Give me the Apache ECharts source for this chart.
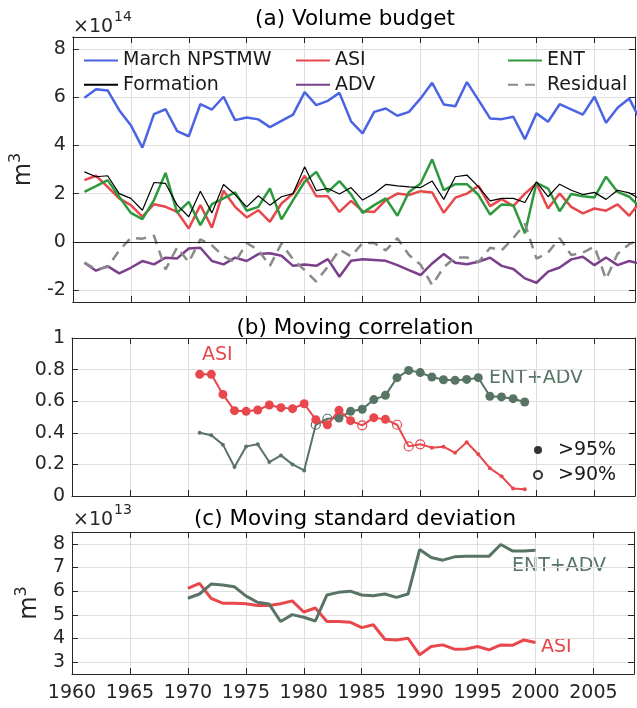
<!DOCTYPE html>
<html><head><meta charset="utf-8">
<script src="https://cdn.jsdelivr.net/npm/echarts@6/dist/echarts.min.js"></script>
<style>html,body{margin:0;padding:0;background:#fff}#c{width:637px;height:708px}</style>
</head><body><div id="c"></div>
<script>
// ---------- data ----------
const yearsA = [1961,1962,1963,1964,1965,1966,1967,1968,1969,1970,1971,1972,1973,1974,1975,1976,1977,1978,1979,1980,1981,1982,1983,1984,1985,1986,1987,1988,1989,1990,1991,1992,1993,1994,1995,1996,1997,1998,1999,2000,2001,2002,2003,2004,2005,2006,2007,2008,2009];
const marchNPSTMW = [5.98,6.33,6.28,5.46,4.84,3.91,5.30,5.50,4.59,4.38, 5.71,5.49,6.02,5.05,5.16,5.08,4.76,5.02,5.28,6.21, 5.67,5.85,6.18,5.00,4.50,5.39,5.53,5.23,5.39,5.95, 6.60,5.70,5.63,6.63,5.88,5.12,5.09,5.19,4.26,5.33, 4.98,5.71,5.50,5.28,6.02,4.94,5.56,5.95,5.00];
const formation = [2.90,2.70,2.74,2.00,1.80,1.31,2.46,2.42,1.52,1.04, 2.10,1.20,2.38,1.96,1.45,1.91,1.52,1.87,2.00,3.11, 2.12,2.21,1.98,2.25,1.73,2.00,2.38,2.32,2.28,2.25, 2.52,1.76,2.70,2.77,2.28,1.70,1.80,1.80,1.63,2.49, 1.87,2.39,2.14,1.96,2.05,1.76,2.14,2.03,1.75];
const asi = [2.56,2.74,2.28,1.80,1.52,1.04,1.56,1.45,1.24,0.55, 1.52,0.59,2.12,1.45,1.01,1.31,0.83,1.59,2.00,2.74, 1.89,1.89,1.24,1.70,1.27,1.24,1.73,2.00,1.94,2.10, 2.05,1.20,1.83,2.00,2.32,1.48,1.77,1.48,2.00,2.42, 1.38,2.00,1.45,1.18,1.38,1.29,1.55,1.08,1.70];
const ent = [2.07,2.31,2.56,1.87,1.20,0.94,1.73,2.86,1.20,1.66, 0.69,1.56,1.80,2.05,1.29,1.45,2.21,0.93,1.73,2.49, 2.90,2.07,2.52,1.97,1.20,1.52,1.80,1.08,2.07,2.42, 3.42,2.14,2.39,2.39,1.94,1.13,1.55,1.52,0.35,2.45, 2.21,1.27,1.98,1.89,1.84,2.70,2.07,1.87,1.40];
const adv = [-0.87,-1.20,-1.01,-1.31,-1.08,-0.80,-0.94,-0.66,-0.69,-0.28, -0.25,-0.80,-0.94,-0.66,-0.80,-0.51,-0.48,-0.58,-1.00,-0.94, -1.00,-0.72,-1.45,-0.79,-0.73,-0.76,-0.79,-0.97,-1.18,-1.38, -0.90,-0.51,-0.87,-0.93,-0.83,-0.66,-1.00,-1.13,-1.52,-1.70, -1.24,-1.07,-0.73,-0.62,-0.97,-0.65,-0.97,-0.80,-0.92];
const residual = [-0.86,-1.15,-1.05,-0.36,0.16,0.13,0.25,-1.15,-0.23,-0.85, 0.10,-0.15,-0.60,-0.85,-0.05,-0.34,-1.00,-0.07,-0.73,-1.18, -1.65,-1.03,-0.33,-0.60,-0.05,-0.05,-0.36,0.15,-0.55,-0.95, -1.80,-1.05,-0.65,-0.65,-0.85,-0.25,-0.35,0.15,0.75,-0.70, -0.45,0.15,-0.55,-0.45,-0.20,-1.55,-0.50,-0.10,0.10];

const yearsB = [1971,1972,1973,1974,1975,1976,1977,1978,1979,1980,1981,1982,1983,1984,1985,1986,1987,1988,1989,1990,1991,1992,1993,1994,1995,1996,1997,1998,1999];
const corrASI = [0.77,0.77,0.643,0.54,0.536,0.544,0.576,0.559,0.553,0.584, 0.483,0.451,0.542,0.477,0.447,0.496,0.485,0.451,0.314,0.327, 0.306,0.312,0.273,0.340,0.264,0.176,0.125,0.047,0.042];
const sigASI  = [2,2,2,2,2,2,2,2,2,2, 2,2,2,2,1,2,2,1,1,1, 0,0,0,0,0,0,0,0,0];
const corrEA  = [0.40,0.384,0.325,0.184,0.314,0.327,0.215,0.257,0.200,0.162, 0.451,0.489,0.494,0.536,0.549,0.610,0.637,0.749,0.795,0.781, 0.753,0.736,0.732,0.738,0.749,0.631,0.627,0.616,0.595];
const sigEA   = [0,0,0,0,0,0,0,0,0,0, 1,1,2,2,2,2,2,2,2,2, 2,2,2,2,2,2,2,2,2];

const yearsC = [1970,1971,1972,1973,1974,1975,1976,1977,1978,1979,1980,1981,1982,1983,1984,1985,1986,1987,1988,1989,1990,1991,1992,1993,1994,1995,1996,1997,1998,1999,2000];
const stdASI = [6.12,6.33,5.70,5.49,5.49,5.47,5.39,5.39,5.47,5.59, 5.12,5.29,4.72,4.72,4.69,4.46,4.58,3.97,3.94,4.01, 3.31,3.66,3.73,3.55,3.56,3.66,3.52,3.73,3.71,3.94,3.83];
const stdEA  = [5.70,5.88,6.30,6.26,6.19,5.80,5.53,5.46,4.72,5.01, 4.90,4.74,5.84,5.95,6.00,5.84,5.81,5.88,5.74,5.88, 7.76,7.42,7.31,7.45,7.48,7.48,7.48,7.97,7.70,7.70,7.73];

const xTicks = [1960,1965,1970,1975,1980,1985,1990,1995,2000,2005];

// ---------- style ----------
const FONT = 'DejaVu Sans';
const AX = '#262626';
const GRIDC = '#dfdfdf';
const COL = {blue:'#4a64e4', red:'#e8474c', green:'#2e9a3e', purple:'#7b3f8c', gray:'#8a8a8a', dk:'#587464'};
const TITLE_FONT = '21.5px "DejaVu Sans"';

const grids = [
  {left:72, top:37, width:563, height:265},
  {left:72, top:338, width:563, height:158},
  {left:72, top:532, width:563, height:142}
];

function xAx(gi, pos, labels){
  return {type:'value', gridIndex:gi, position:pos, min:1960, max:2008.5, interval:5,
    axisLine:{show:true, onZero:false, lineStyle:{color:AX, width:1}},
    axisTick:{show:true, inside:true, length:6, lineStyle:{color:AX}},
    axisLabel:{show:labels, color:AX, fontSize:19, fontFamily:FONT, margin:10,
      formatter: v => (xTicks.indexOf(v) >= 0 ? String(v) : '')},
    splitLine:{show: pos==='bottom', lineStyle:{color:GRIDC, width:1}}
  };
}
function yAx(gi, pos, min, max, step, labels, extra){
  const o = {type:'value', gridIndex:gi, position:pos, min:min, max:max,
    minInterval:step, maxInterval:step, splitNumber:Math.round((max-min)/step),
    axisLine:{show:true, onZero:false, lineStyle:{color:AX, width:1}},
    axisTick:{show:true, inside:true, length:6, lineStyle:{color:AX}},
    axisLabel:{show:labels, color:AX, fontSize:19, fontFamily:FONT, margin:7,
      formatter: v => {const k = v/step; return Math.abs(k-Math.round(k))<1e-6 ? String(Math.round(v*10)/10) : '';}},
    splitLine:{show: pos==='left', lineStyle:{color:GRIDC, width:1}}
  };
  return Object.assign(o, extra||{});
}
const m3name = {name:'{m|m}{s|3}', nameLocation:'middle', nameRotate:90,
  nameTextStyle:{color:AX, fontFamily:FONT, rich:{m:{fontSize:24, fontFamily:FONT, color:AX, lineHeight:28, verticalAlign:'bottom'}, s:{fontSize:16, fontFamily:FONT, color:AX, lineHeight:28, verticalAlign:'top'}}}};

const pairs = (xs, ys) => xs.map((x,i)=>[x, ys[i]]);

function corrData(xs, vals, sig, color){
  return xs.map((x,i)=>{
    const s = sig[i];
    if (s===2) return {value:[x,vals[i]], symbol:'circle', symbolSize:9, itemStyle:{color:color, borderWidth:0}};
    if (s===1) return {value:[x,vals[i]], symbol:'circle', symbolSize:9, itemStyle:{color:'rgba(255,255,255,0)', borderColor:color, borderWidth:1.2}};
    return {value:[x,vals[i]], symbol:'circle', symbolSize:4, itemStyle:{color:color, borderWidth:0}};
  });
}

function lineA(name, ys, color, width, dashed, extra){
  return Object.assign({type:'line', name:name, xAxisIndex:0, yAxisIndex:0, data:pairs(yearsA, ys),
    symbol:'none', clip:true, lineStyle:{color:color, width:width, type: dashed ? [10,7] : 'solid'},
    itemStyle:{color:color}, emphasis:{disabled:true}}, extra||{});
}

const legendBase = {orient:'vertical', itemWidth:34, itemHeight:2, itemGap:5.3, padding:0, selectedMode:false,
  itemStyle:{opacity:0},
  textStyle:{fontSize:19, fontFamily:FONT, color:'#1a1a1a', lineHeight:19}};

const option = {
  animation:false,
  backgroundColor:'#ffffff',
  grid: grids,
  xAxis: [xAx(0,'bottom',false), xAx(1,'bottom',false), xAx(2,'bottom',true),
          xAx(0,'top',false), xAx(1,'top',false), xAx(2,'top',false)],
  yAxis: [
    yAx(0,'left',-2.5,8.5,2,true, Object.assign({nameGap:32}, m3name)),
    yAx(1,'left',0,1,0.2,true),
    yAx(2,'left',2.5,8.5,1,true, Object.assign({nameGap:20}, m3name)),
    yAx(0,'right',-2.5,8.5,2,false),
    yAx(1,'right',0,1,0.2,false),
    yAx(2,'right',2.5,8.5,1,false)
  ],
  legend: [
    Object.assign({}, legendBase, {left:83, top:51, data:['March NPSTMW','Formation']}),
    Object.assign({}, legendBase, {left:295, top:51, data:['ASI','ADV']}),
    Object.assign({}, legendBase, {left:507, top:51, data:['ENT','Residual']}),
    {orient:'vertical', left:533, top:440.5, itemWidth:30, itemHeight:8, itemGap:6, padding:0, selectedMode:false,
     textStyle:{fontSize:19, fontFamily:FONT, color:'#1a1a1a', lineHeight:19}, data:['>95%','>90%']}
  ],
  series: [
    lineA('March NPSTMW', marchNPSTMW, COL.blue, 2.5),
    lineA('ASI', asi, COL.red, 2.5),
    lineA('ENT', ent, COL.green, 2.5),
    lineA('Formation', formation, '#000000', 1.2, false, {
      markLine:{silent:true, symbol:'none', label:{show:false}, animation:false,
        lineStyle:{color:'#1a1a1a', width:1, type:'solid'}, data:[{yAxis:0}]}}),
    lineA('ADV', adv, COL.purple, 2.5),
    lineA('Residual', residual, COL.gray, 2.5, true),

    {type:'line', name:'ASI corr', xAxisIndex:1, yAxisIndex:1, data:corrData(yearsB, corrASI, sigASI, COL.red),
     showSymbol:true, lineStyle:{color:COL.red, width:2}, itemStyle:{color:COL.red}, emphasis:{disabled:true}, z:3},
    {type:'line', name:'ENT+ADV corr', xAxisIndex:1, yAxisIndex:1, data:corrData(yearsB, corrEA, sigEA, COL.dk),
     showSymbol:true, lineStyle:{color:COL.dk, width:2}, itemStyle:{color:COL.dk}, emphasis:{disabled:true}, z:2},
    {type:'scatter', name:'>95%', xAxisIndex:1, yAxisIndex:1, data:[], symbol:'circle', itemStyle:{color:'#000'}},
    {type:'scatter', name:'>90%', xAxisIndex:1, yAxisIndex:1, data:[], symbol:'circle',
     itemStyle:{color:'rgba(255,255,255,0)', borderColor:'#000', borderWidth:1}},

    {type:'line', name:'ASI std', xAxisIndex:2, yAxisIndex:2, data:pairs(yearsC, stdASI), symbol:'none',
     lineStyle:{color:COL.red, width:3}, itemStyle:{color:COL.red}, emphasis:{disabled:true}},
    {type:'line', name:'ENT+ADV std', xAxisIndex:2, yAxisIndex:2, data:pairs(yearsC, stdEA), symbol:'none',
     lineStyle:{color:COL.dk, width:3}, itemStyle:{color:COL.dk}, emphasis:{disabled:true}}
  ],
  graphic: [
    {type:'text', x:355, y:19, style:{text:'(a) Volume budget', font:TITLE_FONT, fill:'#000', align:'center', textAlign:'center', verticalAlign:'middle', textVerticalAlign:'middle'}},
    {type:'text', x:355, y:328, style:{text:'(b) Moving correlation', font:TITLE_FONT, fill:'#000', align:'center', textAlign:'center', verticalAlign:'middle', textVerticalAlign:'middle'}},
    {type:'text', x:355, y:519.5, style:{text:'(c) Moving standard deviation', font:TITLE_FONT, fill:'#000', align:'center', textAlign:'center', verticalAlign:'middle', textVerticalAlign:'middle'}},
    {type:'text', x:73, y:27, style:{text:'×10', font:'19px "DejaVu Sans"', fill:AX, align:'left', textAlign:'left', verticalAlign:'middle', textVerticalAlign:'middle'}},
    {type:'text', x:114, y:17, style:{text:'14', font:'14px "DejaVu Sans"', fill:AX, align:'left', textAlign:'left', verticalAlign:'middle', textVerticalAlign:'middle'}},
    {type:'text', x:73, y:520, style:{text:'×10', font:'19px "DejaVu Sans"', fill:AX, align:'left', textAlign:'left', verticalAlign:'middle', textVerticalAlign:'middle'}},
    {type:'text', x:114, y:510, style:{text:'13', font:'14px "DejaVu Sans"', fill:AX, align:'left', textAlign:'left', verticalAlign:'middle', textVerticalAlign:'middle'}},
    {type:'text', x:202, y:355, style:{text:'ASI', font:'19px "DejaVu Sans"', fill:COL.red, align:'left', textAlign:'left', verticalAlign:'middle', textVerticalAlign:'middle'}},
    {type:'text', x:489, y:378.5, style:{text:'ENT+ADV', font:'19px "DejaVu Sans"', fill:COL.dk, align:'left', textAlign:'left', verticalAlign:'middle', textVerticalAlign:'middle'}},
    {type:'text', x:512, y:566, style:{text:'ENT+ADV', font:'19px "DejaVu Sans"', fill:COL.dk, align:'left', textAlign:'left', verticalAlign:'middle', textVerticalAlign:'middle'}},
    {type:'text', x:541, y:647, style:{text:'ASI', font:'19px "DejaVu Sans"', fill:COL.red, align:'left', textAlign:'left', verticalAlign:'middle', textVerticalAlign:'middle'}}
  ]
};

const chart = echarts.init(document.getElementById('c'), null, {renderer:'canvas', width:637, height:708});
chart.setOption(option);
</script>
</body></html>
